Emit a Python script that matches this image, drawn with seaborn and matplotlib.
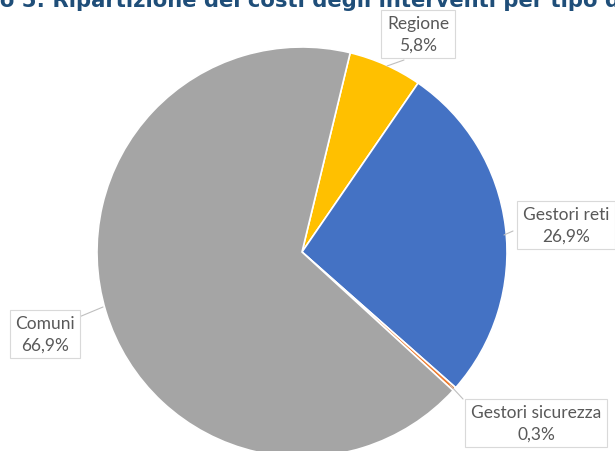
import matplotlib
matplotlib.use("Agg")
import matplotlib.pyplot as plt
import seaborn as sns

sns.set_theme(style="white")
plt.rcParams["font.family"] = ["Lato", "DejaVu Sans"]

# Cost shares by type of actor (%)
categories = ["Regione", "Gestori reti", "Gestori sicurezza", "Comuni"]
shares = [5.8, 26.9, 0.3, 66.9]
value_labels = ["5,8%", "26,9%", "0,3%", "66,9%"]
colors = ["#FFC000", "#4472C4", "#ED7D31", "#A5A5A5"]

title = "Grafico 5: Ripartizione dei costi degli interventi per tipo di soggetto"

W, H = 615, 452
fig = plt.figure(figsize=(W / 100, H / 100), dpi=100)
ax = fig.add_axes([0, 0, 1, 1])

cx, cy, r = 302, H - 253, 205
wedges, _ = ax.pie(
    shares,
    colors=colors,
    startangle=76.4,
    counterclock=False,
    center=(cx, cy),
    radius=r,
    wedgeprops=dict(edgecolor="white", linewidth=1.2),
)
ax.set_xlim(0, W)
ax.set_ylim(0, H)
ax.set_aspect("equal")
ax.axis("off")

# callout boxes: (text centre x, y in pixels from top), leader line start/end
callouts = {
    "Regione": ((418, 35), [(404, 61), (387, 67)]),
    "Gestori reti": ((566, 226), [(513, 232), (504, 236)]),
    "Comuni": ((45, 335), [(79, 318), (103, 308)]),
    "Gestori sicurezza": ((536, 424), [(463, 400), (450, 386)]),
}
for cat, val in zip(categories, value_labels):
    (tx, ty), line = callouts[cat]
    (x0, y0), (x1, y1) = line
    ax.plot([x0, x1], [H - y0, H - y1], color="#BFBFBF", lw=0.8, zorder=3)
    ax.text(
        tx, H - ty, f"{cat}\n{val}",
        ha="center", va="center", fontsize=12.5, color="#595959",
        linespacing=1.4, zorder=4,
        bbox=dict(boxstyle="square,pad=0.32", fc="white", ec="#D9D9D9", lw=0.8),
    )

# chart title, clipped by the top edge
tsize = 15.2
renderer = fig.canvas.get_renderer()
probe = fig.text(0, 0, "Grafic", fontsize=tsize, fontweight="bold",
                 family="DejaVu Sans")
pw = probe.get_window_extent(renderer).width
probe.remove()
fig.text(-pw / W, 1 - 7 / H, title, fontsize=tsize, fontweight="bold",
         family="DejaVu Sans", color="#1F4E79", ha="left", va="baseline")

fig.savefig("out.png", dpi=100)
